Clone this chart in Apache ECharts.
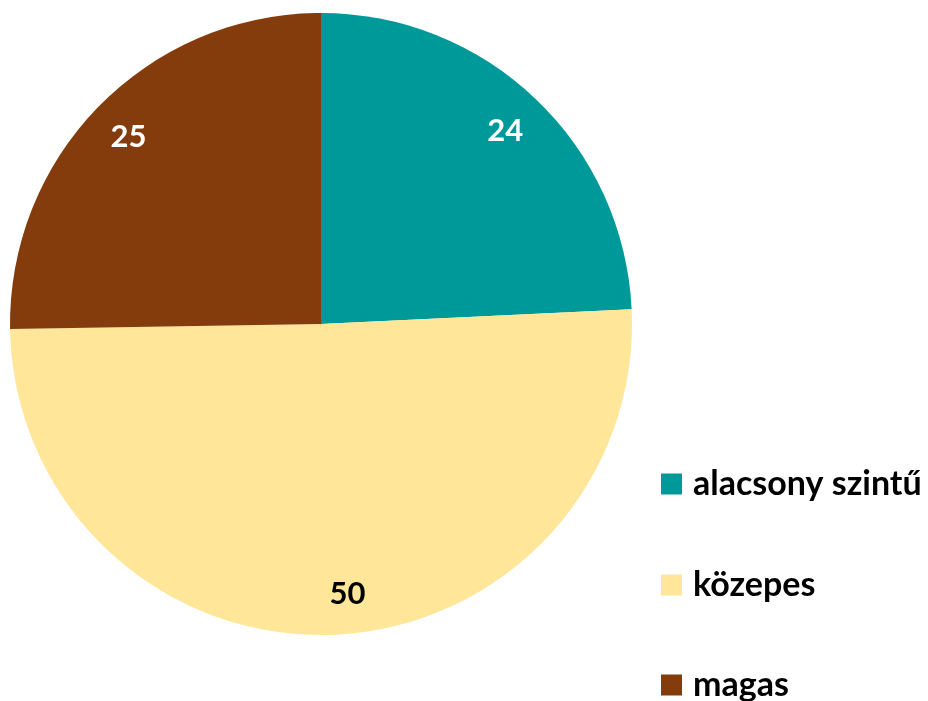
<!DOCTYPE html>
<html>
<head>
<meta charset="utf-8">
<script src="https://cdn.jsdelivr.net/npm/echarts@6/dist/echarts.min.js"></script>
<style>html,body{margin:0;padding:0;background:#fff;}#c{width:928px;height:701px;}</style>
</head>
<body>
<div id="c"></div>
<script>
const categories = ['alacsony szintű', 'közepes', 'magas'];
const values = [24, 50, 25];
const colors = ['#009999', '#FFE699', '#843C0C'];
const labelColors = ['#ffffff', '#000000', '#ffffff'];
const legendTops = [467, 568, 668];

const FONT = 'Lato';
const chart = echarts.init(document.getElementById('c'));
chart.setOption({
  animation: false,
  legend: categories.map((n, i) => ({
    orient: 'vertical',
    left: 661,
    top: legendTops[i],
    padding: 0,
    itemWidth: 21,
    itemHeight: 21,
    itemGap: 10,
    icon: 'rect',
    data: [n],
    textStyle: { fontFamily: FONT, fontWeight: 'bold', fontSize: 34, color: '#000', padding: [0, 0, 0, 6] }
  })),
  series: [
    {
      type: 'pie',
      center: [321, 324],
      radius: [0, 311],
      startAngle: 90,
      clockwise: true,
      label: { show: false },
      labelLine: { show: false },
      emphasis: { disabled: true },
      itemStyle: { borderWidth: 0 },
      data: categories.map((n, i) => ({ name: n, value: values[i], itemStyle: { color: colors[i] } }))
    },
    {
      type: 'pie',
      center: [321, 324],
      radius: [224, 310],
      startAngle: 90,
      clockwise: true,
      silent: true,
      labelLine: { show: false },
      emphasis: { disabled: true },
      itemStyle: { color: 'rgba(0,0,0,0)', borderWidth: 0 },
      label: { show: true, position: 'inside', formatter: '{c}', fontFamily: FONT, fontWeight: 'bold', fontSize: 31 },
      data: categories.map((n, i) => ({ name: n, value: values[i], label: { color: labelColors[i], offset: i === 1 ? [18, 0] : (i === 0 ? [-2, 2] : [0, 2]) } }))
    }
  ]
});
</script>
</body>
</html>
